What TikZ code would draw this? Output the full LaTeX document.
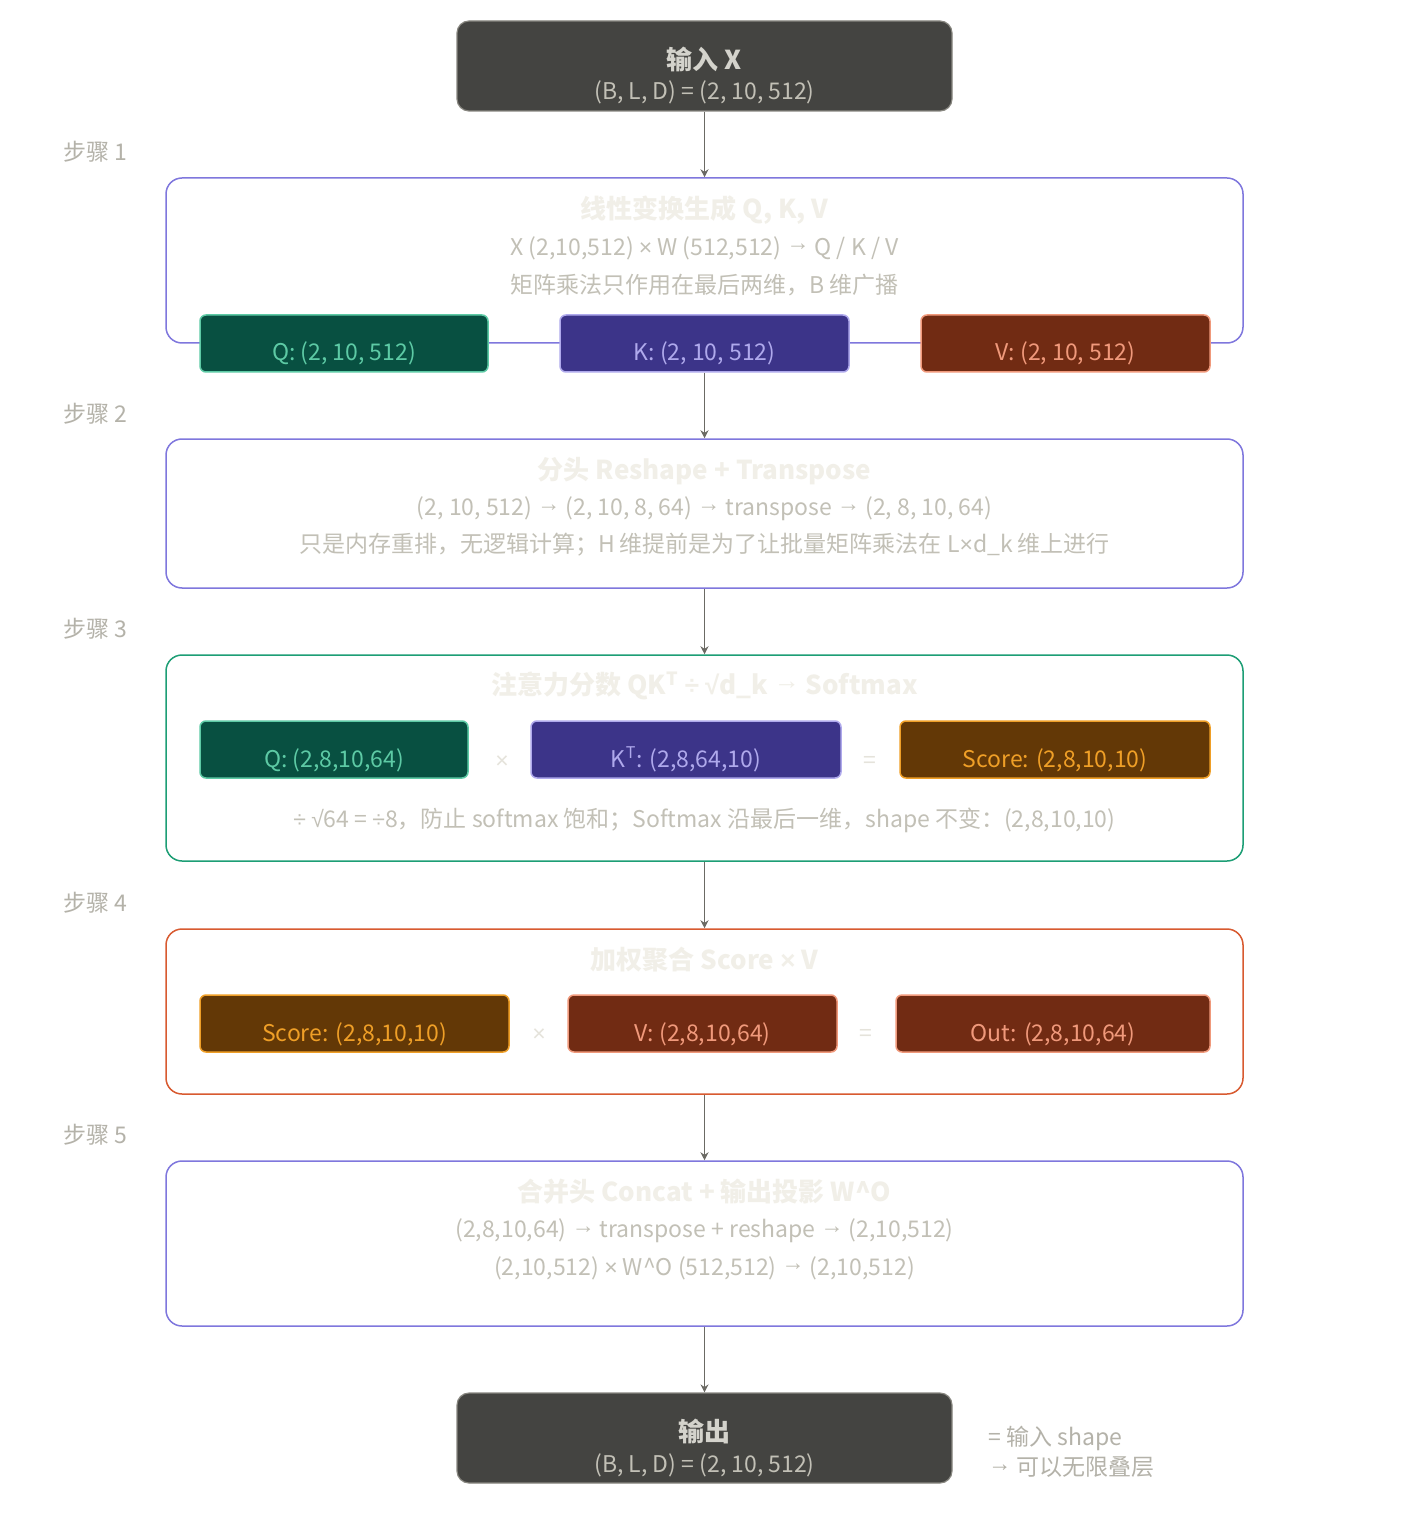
\documentclass[tikz,border=0pt]{standalone}
\usepackage{fontspec}
\setmainfont{Noto Sans CJK SC}
\newfontfamily\symfont{Liberation Sans}
\usetikzlibrary{arrows.meta}

% narrow symbols as in the reference
\newcommand{\opmul}{{\symfont ×}}
\newcommand{\opdiv}{{\symfont ÷}}
\newcommand{\oproot}{{\symfont √}}
\newcommand{\oparr}{\raisebox{0.35ex}{\symfont →}}

\definecolor{graydark}{HTML}{444441}
\definecolor{grayedge}{HTML}{888780}
\definecolor{graytext}{HTML}{C2C0B6}
\definecolor{graylabel}{HTML}{B4B2A9}
\definecolor{grayfaint}{HTML}{F1EFE8}
\definecolor{grayarrow}{HTML}{6B6A64}
\definecolor{purpleline}{HTML}{7F77DD}
\definecolor{tealline}{HTML}{1D9E75}
\definecolor{coralline}{HTML}{D85A30}
\definecolor{tealfill}{HTML}{085041}
\definecolor{teallight}{HTML}{5DCAA5}
\definecolor{purplefill}{HTML}{3C3489}
\definecolor{purplelight}{HTML}{AFA9EC}
\definecolor{coralfill}{HTML}{712B13}
\definecolor{corallight}{HTML}{F0997B}
\definecolor{amberfill}{HTML}{633806}
\definecolor{amberlight}{HTML}{EF9F27}

\tikzset{
  termbox/.style={draw=grayedge, fill=graydark, line width=0.6pt, rounded corners=6pt,
    minimum width=247.5pt, minimum height=45pt, inner sep=0pt},
  termtitle/.style={text=graytext!70!white, font=\bfseries\fontsize{13}{15}\selectfont},
  termsub/.style={text=graytext, font=\fontsize{11.5}{14}\selectfont},
  stepbox/.style={draw=#1, line width=0.75pt, rounded corners=8pt, fill=white,
    minimum width=538.5pt, inner sep=0pt},
  steptitle/.style={text=grayfaint, font=\bfseries\fontsize{13}{15}\selectfont},
  stepline/.style={text=graytext, font=\fontsize{11.5}{14}\selectfont},
  steplabel/.style={text=graylabel, anchor=west, inner sep=0pt, font=\fontsize{11.5}{14}\selectfont},
  opsign/.style={text=grayfaint!80!graylabel, font=\fontsize{11.5}{14}\selectfont},
  chip/.style 2 args={draw=#2, fill=#1, text=#2, line width=0.75pt, rounded corners=3pt,
    minimum height=28.5pt, text height=20.5pt, text depth=3pt, inner sep=0pt,
    font=\fontsize{11.5}{14}\selectfont},
  flow/.style={draw=grayarrow, line width=0.6pt, -{Stealth[length=4pt,width=4pt]}},
}

\begin{document}
\begin{tikzpicture}[x=0.5pt, y=-0.5pt]
  \useasboundingbox[fill=white] (0,0) rectangle (1410,1534);

  % input
  \node[termbox] (inp) at (704.5,66) {};
  \node[termtitle] (inptitle) at (704.5,59) {输入 X};
  \node[termsub] (inpsub) at (704.5,92) {(B, L, D) = (2, 10, 512)};

  % step 1
  \node[steplabel] (lab1) at (63,152) {步骤 1};
  \node[stepbox=purpleline, minimum height=82.5pt] (s1) at (704.5,260.5) {};
  \node[steptitle] (s1title) at (704.5,210) {线性变换生成 Q, K, V};
  \node[stepline] (s1a) at (704.5,248) {X (2,10,512) \opmul{} W (512,512) \oparr{} Q / K / V};
  \node[stepline] (s1b) at (704.5,285) {矩阵乘法只作用在最后两维，B 维广播};
  \node[chip={tealfill}{teallight}, minimum width=144pt] (q1) at (344,343.5) {Q: (2, 10, 512)};
  \node[chip={purplefill}{purplelight}, minimum width=144.5pt] (k1) at (704.5,343.5) {K: (2, 10, 512)};
  \node[chip={coralfill}{corallight}, minimum width=144.5pt] (v1) at (1065.5,343.5) {V: (2, 10, 512)};

  % step 2
  \node[steplabel] (lab2) at (63,414) {步骤 2};
  \node[stepbox=purpleline, minimum height=74.5pt] (s2) at (704.5,513.5) {};
  \node[steptitle] (s2title) at (704.5,471) {分头 Reshape + Transpose};
  \node[stepline] (s2a) at (704.5,509) {(2, 10, 512) \oparr{} (2, 10, 8, 64) \oparr{} transpose \oparr{} (2, 8, 10, 64)};
  \node[stepline] (s2b) at (704.5,545) {只是内存重排，无逻辑计算；H 维提前是为了让批量矩阵乘法在 L\opmul{}d\_k 维上进行};

  % step 3
  \node[steplabel] (lab3) at (63,629) {步骤 3};
  \node[stepbox=tealline, minimum height=103pt] (s3) at (704.5,758) {};
  \node[steptitle] (s3title) at (704.5,686) {注意力分数 QK\textsuperscript{T} \opdiv{} \oproot{}d\_k \oparr{} Softmax};
  \node[chip={tealfill}{teallight}, minimum width=134pt] (q3) at (334,749.5) {Q: (2,8,10,64)};
  \node[opsign] (mul3) at (502,762) {\opmul};
  \node[chip={purplefill}{purplelight}, minimum width=155pt] (kt3) at (686,749.5) {K\textsuperscript{T}: (2,8,64,10)};
  \node[opsign] (eq3) at (870,762) {=};
  \node[chip={amberfill}{amberlight}, minimum width=155pt] (sc3) at (1055,749.5) {Score: (2,8,10,10)};
  \node[stepline] (s3a) at (704.5,820) {\opdiv{} \oproot{}64 = \opdiv{}8，防止 softmax 饱和；Softmax 沿最后一维，shape 不变：(2,8,10,10)};

  % step 4
  \node[steplabel] (lab4) at (63,903) {步骤 4};
  \node[stepbox=coralline, minimum height=82.5pt] (s4) at (704.5,1011.5) {};
  \node[steptitle] (s4title) at (704.5,960) {加权聚合 Score \opmul{} V};
  \node[chip={amberfill}{amberlight}, minimum width=154.5pt] (sc4) at (354.5,1023.5) {Score: (2,8,10,10)};
  \node[opsign] (mul4) at (539,1035) {\opmul};
  \node[chip={coralfill}{corallight}, minimum width=134.5pt] (v4) at (702.5,1023.5) {V: (2,8,10,64)};
  \node[opsign] (eq4) at (866,1035) {=};
  \node[chip={coralfill}{corallight}, minimum width=157pt] (out4) at (1053,1023.5) {Out: (2,8,10,64)};

  % step 5
  \node[steplabel] (lab5) at (63,1135) {步骤 5};
  \node[stepbox=purpleline, minimum height=82.5pt] (s5) at (704.5,1243.5) {};
  \node[steptitle] (s5title) at (704.5,1192) {合并头 Concat + 输出投影 W\textasciicircum O};
  \node[stepline] (s5a) at (704.5,1231) {(2,8,10,64) \oparr{} transpose + reshape \oparr{} (2,10,512)};
  \node[stepline] (s5b) at (704.5,1268) {(2,10,512) \opmul{} W\textasciicircum O (512,512) \oparr{} (2,10,512)};

  % output
  \node[termbox] (out) at (704.5,1438) {};
  \node[termtitle] (outtitle) at (704.5,1431) {输出};
  \node[termsub] (outsub) at (704.5,1465) {(B, L, D) = (2, 10, 512)};
  \node[steplabel] (note1) at (988,1438) {= 输入 shape};
  \node[steplabel] (note2) at (988,1467) {\oparr{} 可以无限叠层};

  % flow
  \draw[flow] (inp) -- (s1);
  \draw[flow] (k1) -- (s2);
  \draw[flow] (s2) -- (s3);
  \draw[flow] (s3) -- (s4);
  \draw[flow] (s4) -- (s5);
  \draw[flow] (s5) -- (out);
\end{tikzpicture}
\end{document}
